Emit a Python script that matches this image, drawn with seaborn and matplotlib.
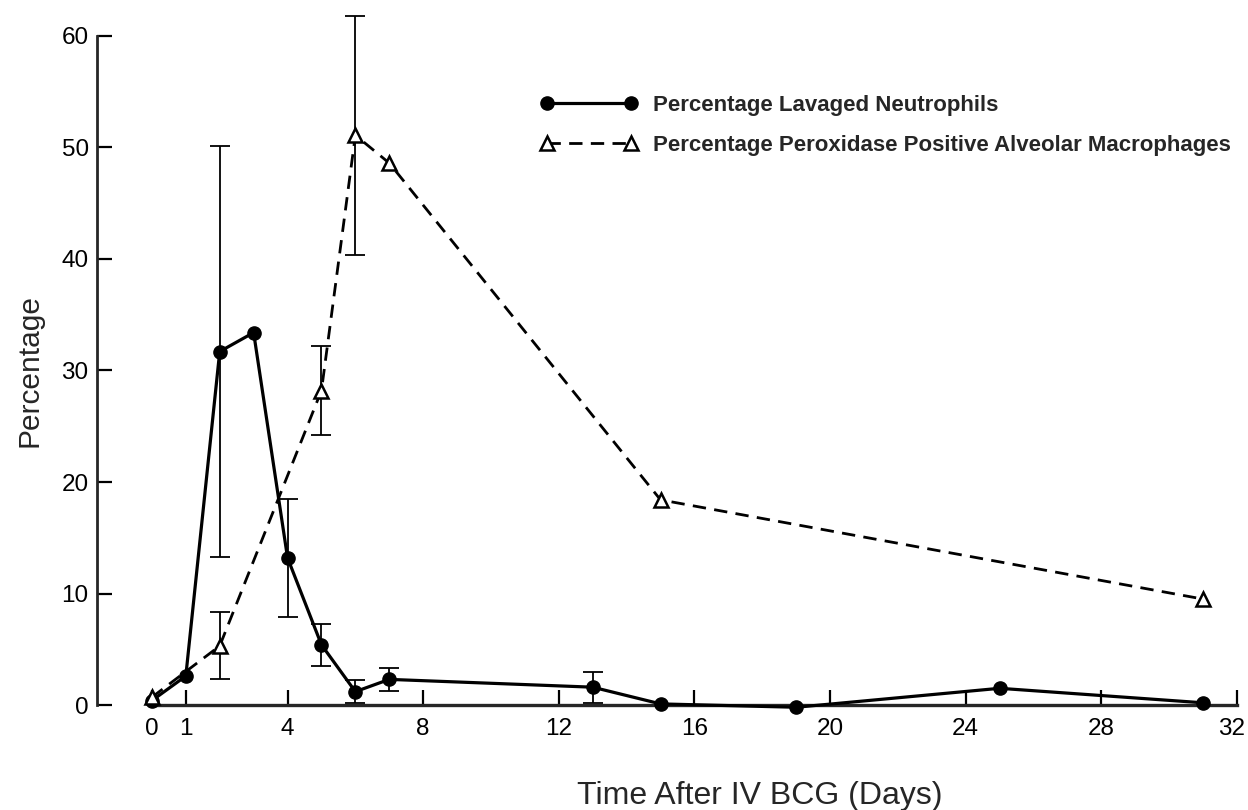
import numpy as np
import pandas as pd
import matplotlib
matplotlib.use("Agg")
import matplotlib.pyplot as plt
import matplotlib.transforms as mtransforms
import seaborn as sns
from matplotlib.lines import Line2D

# ---------------- data ----------------
neut_days = [0, 1, 2, 3, 4, 5, 6, 7, 13, 15, 19, 25, 31]
neut_vals = [0.4, 2.6, 31.7, 33.4, 13.2, 5.4, 1.2, 2.3, 1.6, 0.1, -0.2, 1.5, 0.2]
neut_err = [np.nan, np.nan, 18.4, np.nan, 5.3, 1.9, 1.0, 1.0, 1.4, np.nan, np.nan, np.nan, np.nan]

perox_days = [0, 2, 5, 6, 7, 15, 31]
perox_vals = [0.7, 5.3, 28.2, 51.1, 48.6, 18.4, 9.5]
perox_err = [np.nan, 3.0, 4.0, 10.7, np.nan, np.nan, np.nan]

x_ticks = [0, 1, 4, 8, 12, 16, 20, 24, 28, 32]
y_ticks = [0, 10, 20, 30, 40, 50, 60]

neut_label = "Percentage Lavaged Neutrophils"
perox_label = "Percentage Peroxidase Positive Alveolar Macrophages"
x_title = "Time After IV BCG (Days)"
y_title = "Percentage"

# ---------------- style ----------------
sns.set_style("ticks")
plt.rcParams["font.family"] = ["Liberation Sans", "DejaVu Sans"]

neut_df = pd.DataFrame({"day": neut_days, "val": neut_vals, "err": neut_err})
perox_df = pd.DataFrame({"day": perox_days, "val": perox_vals, "err": perox_err})

fig = plt.figure(figsize=(12.48, 8.10), dpi=100)
ax = fig.add_axes([0.0777, 0.1296, 0.9912 - 0.0777, 0.9556 - 0.1296])

# error bars
ax.errorbar(neut_df["day"], neut_df["val"], yerr=neut_df["err"], fmt="none",
            ecolor="black", elinewidth=1.3, capsize=7.5, capthick=1.3,
            clip_on=False, zorder=2)
ax.errorbar(perox_df["day"], perox_df["val"], yerr=perox_df["err"], fmt="none",
            ecolor="black", elinewidth=1.3, capsize=7.5, capthick=1.3,
            clip_on=False, zorder=2)

# lines
sns.lineplot(data=neut_df, x="day", y="val", ax=ax, color="black",
             linewidth=2.3, marker="o", markersize=9.5,
             markerfacecolor="black", markeredgecolor="black",
             markeredgewidth=1, errorbar=None, clip_on=False, zorder=3)
sns.lineplot(data=perox_df, x="day", y="val", ax=ax, color="black",
             linewidth=2.0, linestyle=(0, (4.8, 3.0)), marker="^",
             markersize=10, markerfacecolor="white", markeredgecolor="black",
             markeredgewidth=1.8, errorbar=None, clip_on=False, zorder=4)

# axes
ax.set_xlim(-1.62, 32)
ax.set_ylim(0, 60)
ax.spines["top"].set_visible(False)
ax.spines["right"].set_visible(False)
ax.spines["bottom"].set_bounds(0, 32)
ax.spines["bottom"].set_linewidth(2.4)
ax.spines["left"].set_linewidth(2.0)
ax.set_xticks(x_ticks)
ax.set_xticklabels([str(t) for t in x_ticks])
ax.set_yticks(y_ticks)
ax.set_yticklabels([str(t) for t in y_ticks])
ax.tick_params(axis="both", direction="in", length=11, width=1.6,
               labelsize=17.5, colors="black")
ax.tick_params(axis="x", pad=9)
ax.tick_params(axis="y", pad=6)

# nudge the last x tick label slightly left so it stays inside the figure
last_lbl = ax.get_xticklabels()[-1]
last_lbl.set_transform(last_lbl.get_transform() +
                       mtransforms.ScaledTranslation(-5 / 100, 0, fig.dpi_scale_trans))

ax.set_xlabel(x_title, fontsize=23)
ax.xaxis.set_label_coords(0.5816, -0.113)
ax.set_ylabel(y_title, fontsize=21.5)
ax.yaxis.set_label_coords(-0.047, 0.5)

# legend
h1 = Line2D([], [], color="black", linewidth=2.3, marker="o", markersize=9.5,
            markerfacecolor="black", markeredgecolor="black")
h2 = Line2D([], [], color="black", linewidth=2.0, linestyle=(0, (4.8, 3.0)),
            marker="^", markersize=10, markerfacecolor="white",
            markeredgecolor="black", markeredgewidth=1.8)
leg = ax.legend([h1, h2], [neut_label, perox_label], loc="upper left",
                bbox_to_anchor=(0.3886, 0.912), frameon=False, numpoints=2,
                handlelength=4.4, handletextpad=0.7, labelspacing=0.87,
                borderpad=0, borderaxespad=0,
                prop={"weight": "bold", "size": 16})

fig.savefig("out.png", dpi=100)
